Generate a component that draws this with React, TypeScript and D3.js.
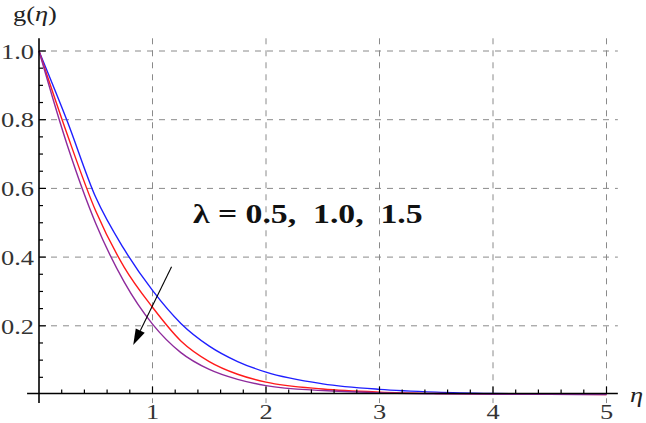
import React, { useEffect, useRef } from "react";
import * as d3 from "d3";

// sample positions (eta) and read-off g(eta) values for each lambda
const etaValues = [0, 0.25, 0.5, 0.75, 1, 1.25, 1.5, 1.75, 2, 2.5, 3, 3.5, 4, 4.5, 5];
const gLambda05 = [1, 0.795, 0.574, 0.423, 0.303, 0.207, 0.141, 0.096, 0.065, 0.031, 0.015, 0.007, 0.003, 0.001, 0.0005];
const gLambda10 = [1, 0.756, 0.534, 0.371, 0.254, 0.156, 0.096, 0.059, 0.036, 0.016, 0.007, 0.003, 0.0013, 0.0005, 0.0002];
const gLambda15 = [1, 0.725, 0.498, 0.328, 0.205, 0.122, 0.073, 0.044, 0.026, 0.0115, 0.005, 0.002, 0.0008, 0.0003, 0.0001];

const seriesColors = ["#1f1fff", "#ff1a1a", "#8e2a9c"];

const xTicks = [1, 2, 3, 4, 5];
const yTicks = [0.2, 0.4, 0.6, 0.8, 1.0];

// arrow from tail to tip, in data units
const arrowTail = [1.168, 0.372];
const arrowTip = [0.83, 0.144];
const labelPos = [1.356, 0.5];
const labelText = "λ = 0.5,  1.0,  1.5";

export default function App() {
  const svgRef = useRef<SVGSVGElement>(null);
  const width = 646;
  const height = 423;

  useEffect(() => {
    const svg = d3.select(svgRef.current);
    svg.selectAll("*").remove();

    const x = d3.scaleLinear().domain([0, 5]).range([39, 606.5]);
    const y = d3.scaleLinear().domain([0, 1]).range([394.5, 51]);

    const xMin = -0.105, xMax = 5.1;
    const yMin = -0.025, yMax = 1.037;
    const stretch = 1.2; // the original picture is a bit wider than tall

    // grid lines
    const grid = svg.append("g")
      .attr("stroke", "#8a8a8a")
      .attr("stroke-width", 1)
      .attr("stroke-dasharray", "6,6");
    xTicks.forEach((t) => {
      grid.append("line")
        .attr("x1", x(t)).attr("x2", x(t))
        .attr("y1", y(yMax)).attr("y2", y(yMin));
    });
    yTicks.forEach((t) => {
      grid.append("line")
        .attr("x1", x(0)).attr("x2", x(xMax))
        .attr("y1", y(t)).attr("y2", y(t));
    });

    // curves
    const line = d3.line<number>()
      .x((_, i) => x(etaValues[i]))
      .y((d) => y(d))
      .curve(d3.curveMonotoneX);
    [gLambda05, gLambda10, gLambda15].forEach((vals, i) => {
      svg.append("path")
        .attr("d", line(vals))
        .attr("fill", "none")
        .attr("stroke", seriesColors[i])
        .attr("stroke-width", 1.4);
    });

    // axes
    const axes = svg.append("g").attr("stroke", "#000").attr("stroke-width", 1.6);
    const axisY = y(0) - 1;
    axes.append("line")
      .attr("x1", x(xMin)).attr("x2", x(xMax))
      .attr("y1", axisY).attr("y2", axisY);
    axes.append("line")
      .attr("x1", x(0)).attr("x2", x(0))
      .attr("y1", y(yMin)).attr("y2", y(yMax));

    // x ticks (major at integers, minor every 0.2)
    d3.range(0.2, 5.01, 0.2).forEach((t) => {
      const major = Math.abs(t - Math.round(t)) < 1e-6;
      axes.append("line")
        .attr("stroke-width", 1.2)
        .attr("x1", x(t)).attr("x2", x(t))
        .attr("y1", axisY).attr("y2", axisY - (major ? 7 : 4));
    });
    // y ticks (major every 0.2, minor every 0.05)
    d3.range(0.05, 1.001, 0.05).forEach((t) => {
      const major = Math.abs(t * 5 - Math.round(t * 5)) < 1e-6;
      axes.append("line")
        .attr("stroke-width", 1.2)
        .attr("x1", x(0)).attr("x2", x(0) + (major ? 7 : 4))
        .attr("y1", y(t)).attr("y2", y(t));
    });

    const font = "'Liberation Serif', 'Times New Roman', serif";

    // tick labels
    svg.append("g")
      .selectAll("text")
      .data(xTicks)
      .enter()
      .append("text")
      .attr("transform", (d) => `translate(${x(d)},419) scale(${stretch},1)`)
      .attr("text-anchor", "middle")
      .attr("font-family", font)
      .attr("font-size", 22)
      .attr("fill", "#333")
      .text((d) => d3.format("d")(d));

    svg.append("g")
      .selectAll("text")
      .data(yTicks)
      .enter()
      .append("text")
      .attr("transform", (d) => `translate(${x(0) - 5},${y(d)}) scale(${stretch},1)`)
      .attr("dy", "0.35em")
      .attr("text-anchor", "end")
      .attr("font-family", font)
      .attr("font-size", 22)
      .attr("fill", "#333")
      .text((d) => d3.format(".1f")(d));

    // axis titles
    const yTitle = svg.append("text")
      .attr("transform", `translate(13,21) scale(${stretch},1)`)
      .attr("font-family", font)
      .attr("font-size", 22)
      .attr("fill", "#222");
    yTitle.append("tspan").text("g(");
    yTitle.append("tspan").attr("font-style", "italic").text("η");
    yTitle.append("tspan").text(")");

    svg.append("text")
      .attr("transform", `translate(630,402) scale(${stretch},1)`)
      .attr("font-family", font)
      .attr("font-size", 22)
      .attr("font-style", "italic")
      .attr("fill", "#222")
      .text("η");

    // annotation
    svg.append("text")
      .attr("transform", `translate(${x(labelPos[0])},${y(labelPos[1])}) scale(1.25,1)`)
      .attr("font-family", font)
      .attr("font-size", 27)
      .attr("font-weight", "bold")
      .attr("fill", "#111")
      .style("white-space", "pre")
      .text(labelText);

    // arrow
    const tx = x(arrowTail[0]), ty = y(arrowTail[1]);
    const hx = x(arrowTip[0]), hy = y(arrowTip[1]);
    const ang = Math.atan2(hy - ty, hx - tx);
    const headLen = 16, headHalf = 5;
    const bx = hx - headLen * Math.cos(ang), by = hy - headLen * Math.sin(ang);
    svg.append("line")
      .attr("x1", tx).attr("y1", ty)
      .attr("x2", bx).attr("y2", by)
      .attr("stroke", "#000")
      .attr("stroke-width", 1.1);
    svg.append("path")
      .attr("d", d3.line()([
        [hx, hy],
        [bx + headHalf * Math.sin(ang), by - headHalf * Math.cos(ang)],
        [bx - headHalf * Math.sin(ang), by + headHalf * Math.cos(ang)],
      ]) + "Z")
      .attr("fill", "#000");
  }, []);

  return (
    <svg
      ref={svgRef}
      width={width}
      height={height}
      style={{ position: "absolute", left: 0, top: 0, background: "#fff", display: "block" }}
    ></svg>
  );
}
